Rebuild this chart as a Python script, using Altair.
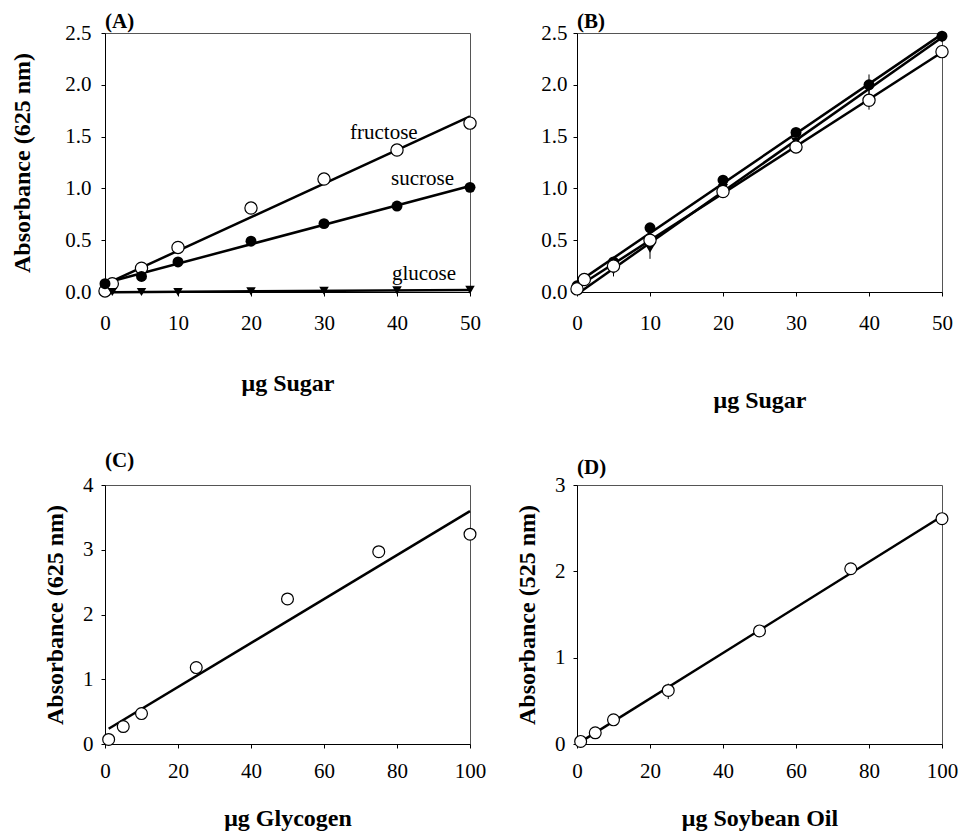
import altair as alt
import pandas as pd

FONT = "Liberation Serif"

# ---------------- Panel A: sugars (625 nm) ----------------
a_fru_x = [0, 1, 5, 10, 20, 30, 40, 50]
a_fru_y = [0.01, 0.08, 0.23, 0.43, 0.81, 1.09, 1.37, 1.63]
a_suc_x = [0, 5, 10, 20, 30, 40, 50]
a_suc_y = [0.08, 0.15, 0.29, 0.49, 0.66, 0.83, 1.01]
a_glu_x = [1, 5, 10, 20, 30, 40, 50]
a_glu_y = [0.0, 0.0, 0.0, 0.005, 0.01, 0.015, 0.02]
a_lbl = ["fructose", "sucrose", "glucose"]
a_lbl_x = [38.2, 43.5, 43.7]
a_lbl_y = [1.53, 1.09, 0.17]

# ---------------- Panel B ----------------
b_fill_x = [0, 5, 10, 20, 30, 40, 50]
b_fill_y = [0.06, 0.29, 0.62, 1.08, 1.54, 2.00, 2.47]
b_open_x = [0, 1, 5, 10, 20, 30, 40, 50]
b_open_y = [0.03, 0.12, 0.25, 0.50, 0.97, 1.40, 1.85, 2.32]
b_tri_x = [0, 5, 10, 20, 30, 40, 50]
b_tri_y = [0.02, 0.21, 0.42, 1.00, 1.45, 1.98, 2.45]
b_err_x = [40, 50, 20, 30, 40, 5, 10]
b_err_lo = [1.89, 2.42, 0.92, 1.34, 1.76, 0.15, 0.32]
b_err_hi = [2.10, 2.52, 1.02, 1.46, 1.95, 0.27, 0.50]

# ---------------- Panel C: glycogen ----------------
c_x = [1, 5, 10, 25, 50, 75, 100]
c_y = [0.07, 0.27, 0.47, 1.18, 2.24, 2.97, 3.24]

# ---------------- Panel D: soybean oil (525 nm) ----------------
d_x = [1, 5, 10, 25, 50, 75, 100]
d_y = [0.03, 0.13, 0.28, 0.62, 1.31, 2.03, 2.61]
d_err_x = [25]
d_err_lo = [0.52]
d_err_hi = [0.70]

W, H = 365, 259


def enc_x(xmax, xvals, title, lpad, tpad):
    return alt.X(
        "x:Q",
        scale=alt.Scale(domain=[0, xmax], nice=False, zero=False),
        axis=alt.Axis(values=xvals, format="d", title=title, titlePadding=tpad,
                      labelPadding=lpad, tickSize=4, labelFlush=False),
    )


def enc_y(ymax, yvals, fmt, title, lpad, tpad):
    ax = dict(values=yvals, format=fmt, labelPadding=lpad, tickSize=4, titlePadding=tpad,
              labelFlush=False)
    ax["title"] = title if title else None
    return alt.Y("y:Q", scale=alt.Scale(domain=[0, ymax], nice=False, zero=False),
                 axis=alt.Axis(**ax))


def df(xs, ys):
    return pd.DataFrame({"x": xs, "y": ys})


def reg_line(d, X, Y, sw=2.5):
    return (alt.Chart(d).transform_regression("x", "y")
            .mark_line(color="black", strokeWidth=sw).encode(x=X, y=Y))


def open_pts(d, X, Y, size=150):
    return alt.Chart(d).mark_point(shape="circle", filled=True, fill="white", stroke="black",
                                   strokeWidth=1.2, size=size, opacity=1).encode(x=X, y=Y)


def fill_pts(d, X, Y, shape="circle", size=120):
    return alt.Chart(d).mark_point(shape=shape, filled=True, color="black", size=size,
                                   opacity=1).encode(x=X, y=Y)


def err(xs, lo, hi, X):
    e = pd.DataFrame({"x": xs, "lo": lo, "hi": hi})
    return alt.Chart(e).mark_rule(color="black", strokeWidth=1).encode(
        x=X, y=alt.Y("lo:Q"), y2="hi:Q")


def ptitle(t, off):
    return alt.TitleParams(t, anchor="start", frame="group", font=FONT, fontSize=21,
                           fontWeight="bold", offset=off, color="black")


# Panel A
XA = enc_x(50, [0, 10, 20, 30, 40, 50], "μg Sugar", 16, 38)
YA = enc_y(2.5, [0, 0.5, 1.0, 1.5, 2.0, 2.5], ".1f", "Absorbance (625 nm)", 10, 30)
dA_f, dA_s, dA_g = df(a_fru_x, a_fru_y), df(a_suc_x, a_suc_y), df(a_glu_x, a_glu_y)
lblA = pd.DataFrame({"x": a_lbl_x, "y": a_lbl_y, "t": a_lbl})
panelA = alt.layer(
    reg_line(dA_f, XA, YA), reg_line(dA_s, XA, YA), reg_line(dA_g, XA, YA),
    open_pts(dA_f, XA, YA), fill_pts(dA_s, XA, YA),
    fill_pts(dA_g, XA, YA, shape="triangle-down", size=90),
    alt.Chart(lblA).mark_text(font=FONT, fontSize=21, color="black").encode(x=XA, y=YA, text="t:N"),
).properties(width=W, height=H, title=ptitle("(A)", -10))

# Panel B
XB = enc_x(50, [0, 10, 20, 30, 40, 50], "μg Sugar", 16, 55)
YB = enc_y(2.5, [0, 0.5, 1.0, 1.5, 2.0, 2.5], ".1f", None, 6, 10)
dB_f, dB_o, dB_t = df(b_fill_x, b_fill_y), df(b_open_x, b_open_y), df(b_tri_x, b_tri_y)
panelB = alt.layer(
    err(b_err_x, b_err_lo, b_err_hi, XB),
    reg_line(dB_t, XB, YB), reg_line(dB_f, XB, YB), reg_line(dB_o, XB, YB),
    fill_pts(dB_t, XB, YB, shape="triangle-down", size=100),
    fill_pts(dB_f, XB, YB), open_pts(dB_o, XB, YB),
).properties(width=W, height=H, title=ptitle("(B)", -10))

# Panel C
XC = enc_x(100, [0, 20, 40, 60, 80, 100], "μg Glycogen", 12, 25)
YC = enc_y(4, [0, 1, 2, 3, 4], "d", "Absorbance (625 nm)", 8, 15)
dC = df(c_x, c_y)
panelC = alt.layer(reg_line(dC, XC, YC), open_pts(dC, XC, YC, 140)).properties(
    width=W, height=H, title=ptitle("(C)", 3))

# Panel D
XD = enc_x(100, [0, 20, 40, 60, 80, 100], "μg Soybean Oil", 12, 25)
YD = enc_y(3, [0, 1, 2, 3], "d", "Absorbance (525 nm)", 8, 15)
dD = df(d_x, d_y)
panelD = alt.layer(err(d_err_x, d_err_lo, d_err_hi, XD), reg_line(dD, XD, YD),
                   open_pts(dD, XD, YD, 140)).properties(
    width=W, height=H, title=ptitle("(D)", -4))

chart = (
    alt.concat(panelA, panelB, panelC, panelD, columns=2,
               spacing={"row": 36, "column": 28},
               padding={"left": 2, "top": 2, "right": 0, "bottom": 0})
    .configure_view(stroke="#555555", strokeWidth=1)
    .configure_axis(labelFont=FONT, labelFontSize=21, labelColor="black",
                    titleFont=FONT, titleFontSize=24, titleFontWeight="bold",
                    titleColor="black", grid=False, domainColor="black",
                    tickColor="black", domainWidth=1)
)

chart.save("out.html", embed_options={"renderer": "svg", "actions": False})
